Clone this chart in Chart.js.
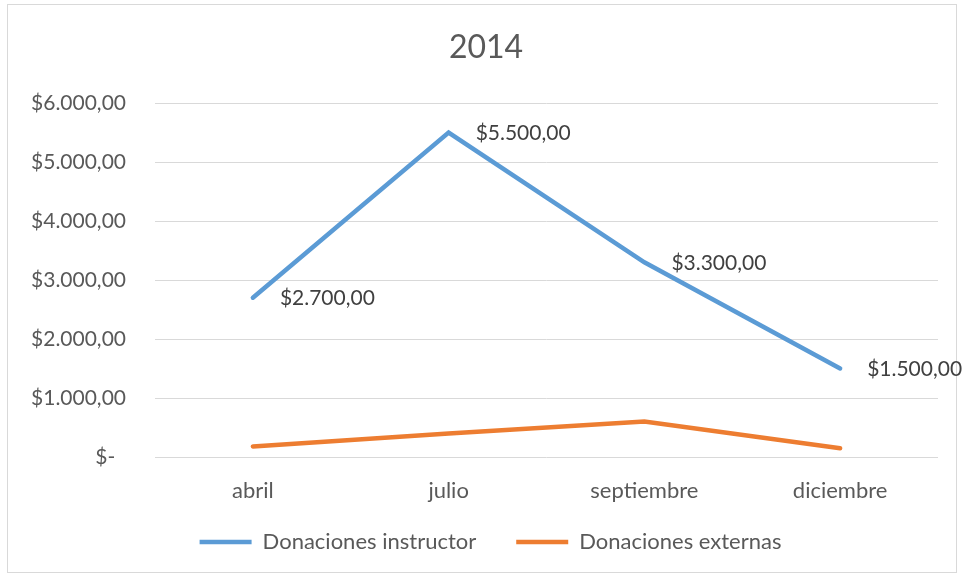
<!DOCTYPE html>
<html>
<head>
<meta charset="utf-8">
<script src="https://cdn.jsdelivr.net/npm/chart.js@4"></script>
<style>
  body { margin: 0; background: #fff; }
  #wrap { width: 963px; height: 578px; }
</style>
</head>
<body>
<div id="wrap"><canvas id="chart" width="963" height="578"></canvas></div>
<script>
const chartTitle = '2014';
const months = ['abril', 'julio', 'septiembre', 'diciembre'];
const donacionesInstructor = [2700, 5500, 3300, 1500];
const donacionesExternas = [180, 400, 600, 150];
const yTicks = [0, 1000, 2000, 3000, 4000, 5000, 6000];

const FONT = 'Lato, Carlito, "Liberation Sans", sans-serif';
const TEXT = '#595959';

function money(v) {
    if (v === 0) return '$-  ';
    const parts = v.toFixed(2).split('.');
    return '$' + parts[0].replace(/\B(?=(\d{3})+(?!\d))/g, '.') + ',' + parts[1];
}

// frame around the whole chart + the title (centred on the frame)
const framePlugin = {
    id: 'frame',
    afterLayout(chart) {
        // nudge the legend so it sits centred under the frame like the original
        const lg = chart.legend;
        lg.left += 9; lg.right += 9;
        lg.top -= 16; lg.bottom -= 16;
    },
    beforeDraw(chart) {
        const ctx = chart.ctx;
        ctx.save();
        ctx.fillStyle = '#fff';
        ctx.fillRect(0, 0, chart.width, chart.height);
        ctx.strokeStyle = '#D9D9D9';
        ctx.lineWidth = 1;
        ctx.strokeRect(7.5, 4.5, 949, 568);
        ctx.font = '32px ' + FONT;
        ctx.fillStyle = TEXT;
        ctx.textAlign = 'center';
        ctx.textBaseline = 'middle';
        ctx.fillText(chartTitle, 486, 48);
        ctx.restore();
    }
};

// value labels to the right of the instructor points
const valueLabels = {
    id: 'valueLabels',
    afterDatasetsDraw(chart) {
        const ctx = chart.ctx;
        const meta = chart.getDatasetMeta(0);
        ctx.save();
        ctx.font = '21px ' + FONT;
        ctx.fillStyle = '#404040';
        ctx.textAlign = 'left';
        ctx.textBaseline = 'middle';
        meta.data.forEach((pt, i) => {
            ctx.fillText(money(donacionesInstructor[i]), pt.x + 27, pt.y + 1);
        });
        ctx.restore();
    }
};

new Chart(document.getElementById('chart').getContext('2d'), {
    type: 'line',
    data: {
        labels: months,
        datasets: [
            {
                label: 'Donaciones instructor',
                data: donacionesInstructor,
                borderColor: '#5B9BD5',
                backgroundColor: '#5B9BD5',
                borderWidth: 4.5,
                borderCapStyle: 'round',
                pointRadius: 0,
                tension: 0
            },
            {
                label: 'Donaciones externas',
                data: donacionesExternas,
                borderColor: '#ED7D31',
                backgroundColor: '#ED7D31',
                borderWidth: 4.5,
                borderCapStyle: 'round',
                pointRadius: 0,
                tension: 0
            }
        ]
    },
    options: {
        responsive: false,
        animation: false,
        layout: { padding: { left: 25, right: 25, top: 103, bottom: 0 } },
        plugins: {
            title: { display: false },
            legend: {
                position: 'bottom',
                maxHeight: 71,
                labels: {
                    color: TEXT,
                    font: { family: FONT, size: 22 },
                    usePointStyle: true,
                    pointStyle: 'line',
                    pointStyleWidth: 52,
                    padding: 40
                }
            },
            tooltip: { enabled: false }
        },
        scales: {
            x: {
                offset: true,
                afterFit(scale) { scale.height = 50; },
                grid: { display: false },
                border: { display: false },
                ticks: {
                    color: TEXT,
                    font: { family: FONT, size: 22 },
                    padding: 13,
                    maxRotation: 0
                }
            },
            y: {
                min: 0,
                max: 6000,
                afterFit(scale) { scale.width = 130; },
                afterBuildTicks(scale) { scale.ticks = yTicks.map(v => ({ value: v })); },
                grid: { color: '#D9D9D9', lineWidth: 1, drawTicks: false },
                border: { display: false },
                ticks: {
                    color: TEXT,
                    font: { family: FONT, size: 21 },
                    padding: 29,
                    callback: v => money(v)
                }
            }
        }
    },
    plugins: [framePlugin, valueLabels]
});
</script>
</body>
</html>
